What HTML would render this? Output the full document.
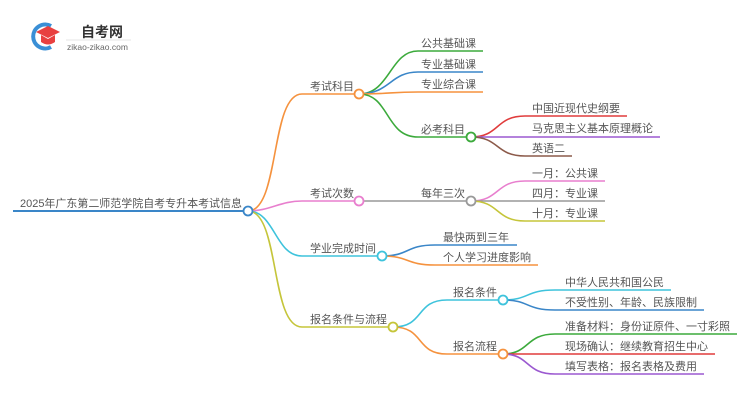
<!DOCTYPE html>
<html><head><meta charset="utf-8"><style>
html,body{margin:0;padding:0;background:#fff;}
svg{display:block}
text{font-family:"Liberation Sans","Noto Sans CJK SC",sans-serif;font-size:11px;fill:#555;}
</style></head><body>
<svg width="750" height="410" viewBox="0 0 750 410" xmlns="http://www.w3.org/2000/svg" fill="none" stroke-width="1.6">
<!-- logo -->
<path d="M51 26 A12 12 0 1 0 51 47" stroke="#3a8fd6" stroke-width="4"/>
<path d="M36 32 L48 26 L60 32 L48 38 Z" fill="#e84040" stroke="none"/>
<path d="M41 35 L41 42 Q48 47 55 42 L55 35 L48 39 Z" fill="#e84040" stroke="none"/>
<text x="81" y="37" style="font-size:14px;font-weight:bold;fill:#333">自考网</text>
<line x1="66" y1="40" x2="131" y2="40" stroke="#ddd" stroke-width="0.8"/>
<text x="67" y="50" style="font-size:8.5px;fill:#666">zikao-zikao.com</text>

<!-- root -->
<line x1="13" y1="211" x2="244" y2="211" stroke="#3a86c8" stroke-width="2"/>
<text x="20" y="207" textLength="222" lengthAdjust="spacingAndGlyphs" style="font-size:11px">2025年广东第二师范学院自考专升本考试信息</text>

<!-- branches from root -->
<path d="M248 211 C280 211 270 94 302 94 L355 94" stroke="#f5923e"/>
<path d="M248 211 C270 211 280 201 302 201 L355 201" stroke="#e87fce"/>
<path d="M248 211 C275 211 275 256 302 256 L378 256" stroke="#3ec3dc"/>
<path d="M248 211 C280 211 270 327 302 327 L389 327" stroke="#c5c53a"/>
<circle cx="248" cy="211" r="4.5" fill="#fff" stroke="#3a86c8" stroke-width="1.8"/>

<text x="310" y="90">考试科目</text>
<text x="310" y="197">考试次数</text>
<text x="310" y="252">学业完成时间</text>
<text x="310" y="323">报名条件与流程</text>

<!-- 考试科目 children -->
<path d="M359 94 C390 94 390 51 418 51 L483 51" stroke="#3caa3c"/>
<path d="M359 94 C390 94 390 72 418 72 L483 72" stroke="#3a86c8"/>
<path d="M359 94 C390 94 390 92 418 92 L483 92" stroke="#f5923e"/>
<path d="M359 94 C390 94 385 137 418 137 L467 137" stroke="#3caa3c"/>
<circle cx="359" cy="94" r="4.5" fill="#fff" stroke="#f5923e" stroke-width="1.8"/>
<text x="421" y="47">公共基础课</text>
<text x="421" y="68">专业基础课</text>
<text x="421" y="88">专业综合课</text>
<text x="421" y="133">必考科目</text>

<path d="M471 137 C500 137 495 116 525 116 L627 116" stroke="#e03c3c"/>
<path d="M471 137 L660 137" stroke="#9b59d0"/>
<path d="M471 137 C500 137 495 156 525 156 L572 156" stroke="#8c5a4a"/>
<circle cx="471" cy="137" r="4.5" fill="#fff" stroke="#3caa3c" stroke-width="1.8"/>
<text x="532" y="112">中国近现代史纲要</text>
<text x="532" y="132">马克思主义基本原理概论</text>
<text x="532" y="152">英语二</text>

<!-- 考试次数 -->
<path d="M359 201 L467 201" stroke="#999"/>
<circle cx="359" cy="201" r="4.5" fill="#fff" stroke="#e87fce" stroke-width="1.8"/>
<text x="421" y="197">每年三次</text>
<path d="M471 201 C500 201 495 181 525 181 L605 181" stroke="#e87fce"/>
<path d="M471 201 L605 201" stroke="#999"/>
<path d="M471 201 C500 201 495 221 525 221 L605 221" stroke="#c5c53a"/>
<circle cx="471" cy="201" r="4.5" fill="#fff" stroke="#999" stroke-width="1.8"/>
<text x="532" y="177">一月：公共课</text>
<text x="532" y="197">四月：专业课</text>
<text x="532" y="217">十月：专业课</text>

<!-- 学业完成时间 -->
<path d="M382 256 C410 256 405 245 435 245 L517 245" stroke="#3a86c8"/>
<path d="M382 256 C410 256 405 265 435 265 L538 265" stroke="#f5923e"/>
<circle cx="382" cy="256" r="4.5" fill="#fff" stroke="#3ec3dc" stroke-width="1.8"/>
<text x="443" y="241">最快两到三年</text>
<text x="443" y="261">个人学习进度影响</text>

<!-- 报名条件与流程 -->
<path d="M393 327 C425 327 415 300 447 300 L499 300" stroke="#3ec3dc"/>
<path d="M393 327 C425 327 415 354 447 354 L499 354" stroke="#f5923e"/>
<circle cx="393" cy="327" r="4.5" fill="#fff" stroke="#c5c53a" stroke-width="1.8"/>
<text x="453" y="296">报名条件</text>
<text x="453" y="350">报名流程</text>

<path d="M503 300 C530 300 525 290 555 290 L671 290" stroke="#3ec3dc"/>
<path d="M503 300 C530 300 525 310 555 310 L704 310" stroke="#3a86c8"/>
<circle cx="503" cy="300" r="4.5" fill="#fff" stroke="#3ec3dc" stroke-width="1.8"/>
<text x="565" y="286">中华人民共和国公民</text>
<text x="565" y="306">不受性别、年龄、民族限制</text>

<path d="M503 354 C530 354 525 334 555 334 L737 334" stroke="#3caa3c"/>
<path d="M503 354 L715 354" stroke="#e03c3c"/>
<path d="M503 354 C530 354 525 374 555 374 L704 374" stroke="#9b59d0"/>
<circle cx="503" cy="354" r="4.5" fill="#fff" stroke="#f5923e" stroke-width="1.8"/>
<text x="565" y="330">准备材料：身份证原件、一寸彩照</text>
<text x="565" y="350">现场确认：继续教育招生中心</text>
<text x="565" y="370">填写表格：报名表格及费用</text>
</svg>
</body></html>
